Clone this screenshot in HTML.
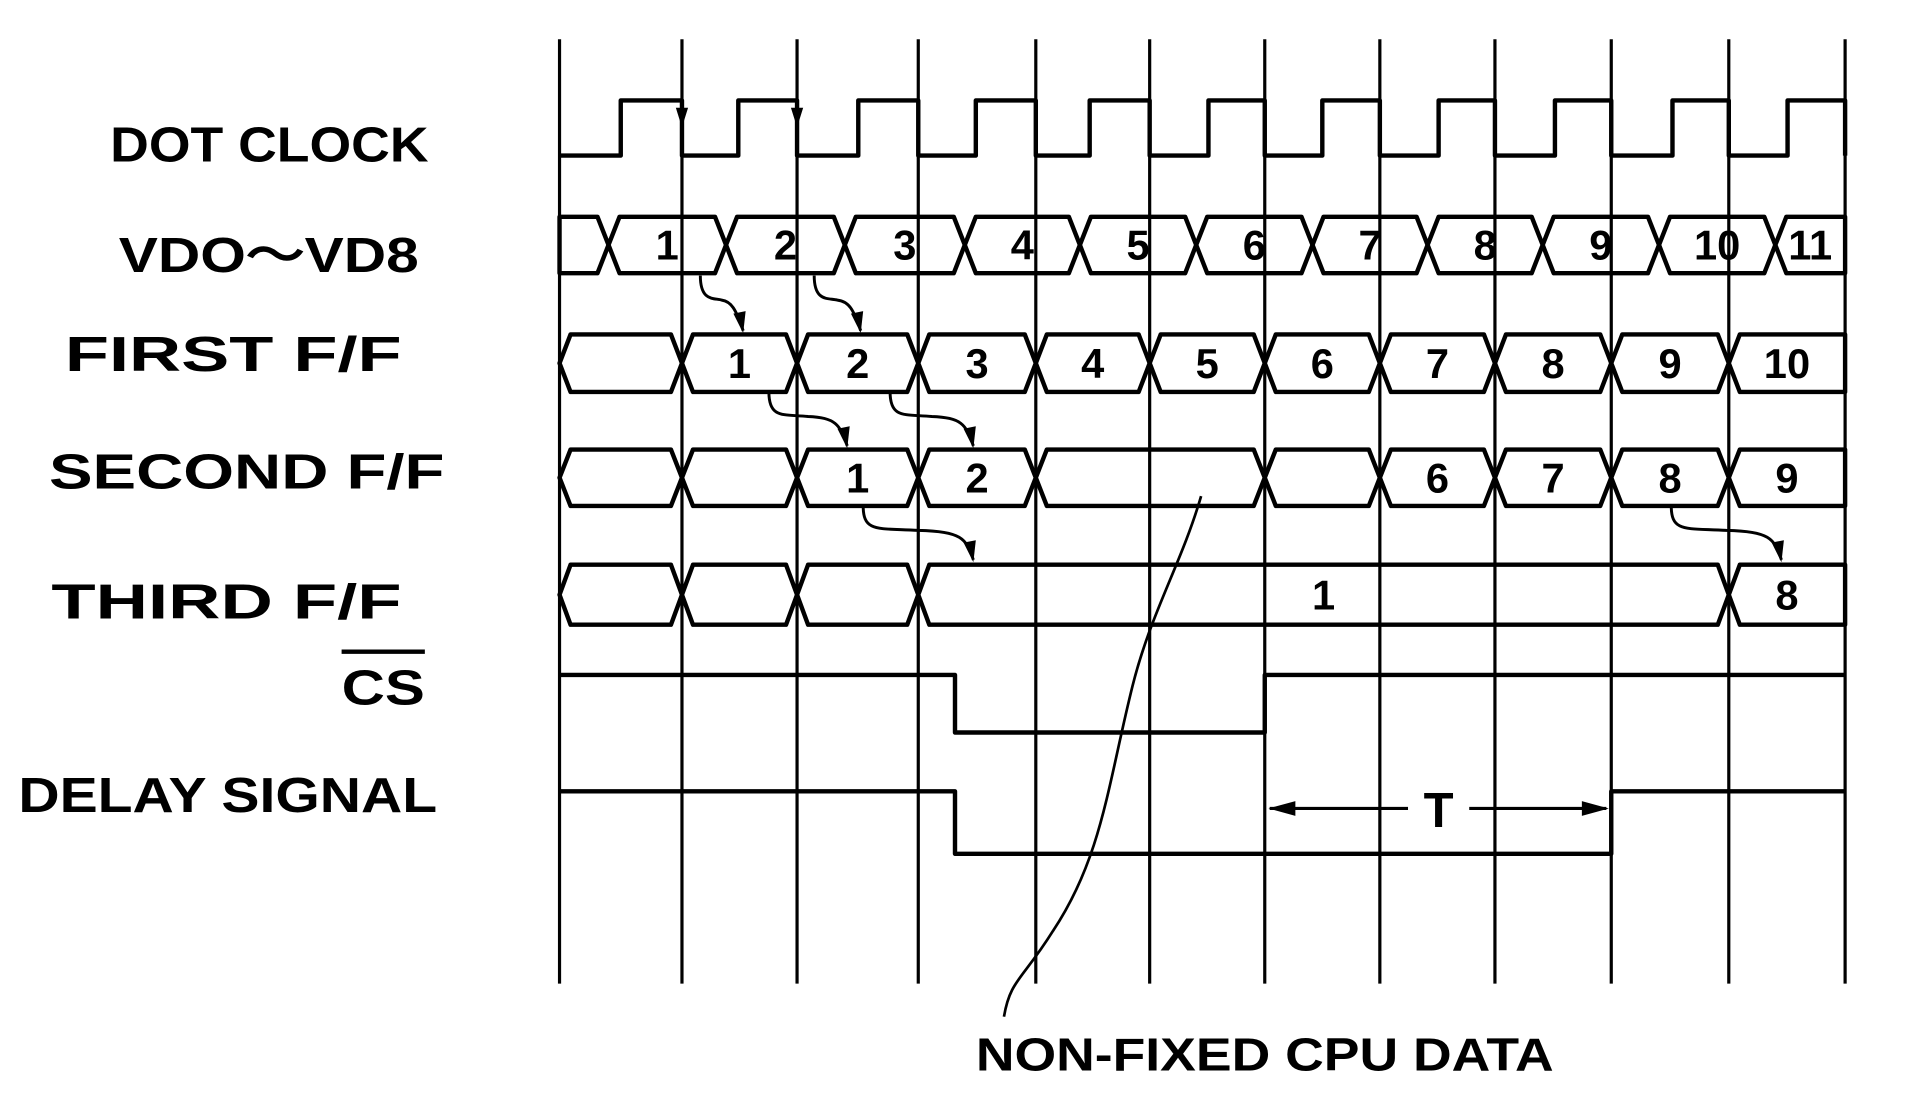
<!DOCTYPE html>
<html><head><meta charset="utf-8"><style>
html,body{margin:0;padding:0;background:#fff;}
svg{display:block;}
text{font-family:"Liberation Sans",sans-serif;font-weight:bold;fill:#000;}
</style></head><body>
<svg id="chart" width="1910" height="1100" viewBox="0 0 1560 898" preserveAspectRatio="none" xmlns="http://www.w3.org/2000/svg">
<g id="grid"></g>
<g id="waves" fill="none" stroke="#000" stroke-width="3.6" stroke-linejoin="round"></g>
<g id="labels">
<text x="90" y="132" font-size="40" textLength="260" lengthAdjust="spacingAndGlyphs">DOT CLOCK</text>
<text x="97" y="222" font-size="40" textLength="245" lengthAdjust="spacingAndGlyphs">VDO～VD8</text>
<text x="53" y="303" font-size="40" textLength="275" lengthAdjust="spacingAndGlyphs">FIRST  F/F</text>
<text x="40" y="399" font-size="40" textLength="323" lengthAdjust="spacingAndGlyphs">SECOND  F/F</text>
<text x="42" y="505" font-size="40" textLength="286" lengthAdjust="spacingAndGlyphs">THIRD   F/F</text>
<text x="279" y="575" font-size="40" textLength="68" lengthAdjust="spacingAndGlyphs">CS</text>
<line x1="279" y1="532" x2="347" y2="532" stroke="#000" stroke-width="3.5"/>
<text x="15" y="663" font-size="40" textLength="342" lengthAdjust="spacingAndGlyphs">DELAY SIGNAL</text>
<text x="797" y="874" font-size="38" textLength="472" lengthAdjust="spacingAndGlyphs">NON-FIXED CPU DATA</text>
<text x="1175" y="675" font-size="40" text-anchor="middle">T</text>
</g>
</svg>
<script>
// ---- data ----
const gridX = [457,557,651,750,846,939,1033,1127,1221,1316,1412,1507];
const clockRise = [507,603,701,797,890,987,1080,1175,1270,1366,1460];
const vdCross = [497,593,690,788,882,977,1072,1166,1260,1355,1450];
const vdLabels = ["1","2","3","4","5","6","7","8","9","10","11"];
const ff1Cross = [457,557,651,750,846,939,1033,1127,1221,1316,1412];
const ff1Labels = ["","1","2","3","4","5","6","7","8","9","10"];
const ff2Cross = [457,557,651,750,846,1033,1127,1221,1316,1412];
const ff2Labels = ["","","1","2","","","6","7","8","9"];
const ff3Cross = [457,557,651,750,1412];
const ff3Labels = ["","","","1","8"];
const csEdges = [780,1033];      // low between
const delayEdges = [780,1316];   // low between

const NS="http://www.w3.org/2000/svg";
const grid=document.getElementById('grid'), waves=document.getElementById('waves'), labels=document.getElementById('labels');
function mk(tag,attrs,parent){const e=document.createElementNS(NS,tag);for(const k in attrs)e.setAttribute(k,attrs[k]);parent.appendChild(e);return e;}

gridX.forEach((x,i)=>{
  const l=mk('line',{x1:x,y1:32,x2:x,y2:803,stroke:'#000','stroke-width':2.6},grid);
  
  
});

// clock
const yH=82,yL=127,xEnd=1507;
let d=`M${gridX[0]} ${yL}`;
clockRise.forEach((r,i)=>{const f=gridX[i+1];d+=` L${r} ${yL} L${r} ${yH} L${f} ${yH} L${f} ${yL}`;});
const clk=mk('path',{d},waves);


[557,651].forEach(x=>{
  const a=mk('path',{d:`M${x-5} 88 L${x+5} 88 L${x} 104 Z`,fill:'#000',stroke:'none'},waves);
  
  
});

function bus(name,cross,labs,top,bot,startFlat,x0,x1){
  const mid=(top+bot)/2, dd=9;
  const segs=[];
  if(startFlat) segs.push([x0,cross[0],true,false,""]);
  for(let i=0;i<cross.length;i++){
    const a=cross[i], b=(i+1<cross.length)?cross[i+1]:x1;
    segs.push([a,b,false,i+1>=cross.length,labs[startFlat?i+1:i]||""]);
  }
  segs.forEach((s,i)=>{
    const [a,b,fl,fr,lab]=s;
    let p = fl?`M${a} ${top} L${a} ${bot}`:`M${a+dd} ${top} L${a} ${mid} L${a+dd} ${bot}`;
    p += fr?` L${b} ${bot} L${b} ${top} Z`:` L${b-dd} ${bot} L${b} ${mid} L${b-dd} ${top} Z`;
    const e=mk('path',{d:p},waves);
    
    
    if(lab){
      const t=mk('text',{x:(a+b)/2,y:mid+12,'font-size':34,'text-anchor':'middle'},labels);
      t.textContent=lab;
      
      
    }
  });
}
bus('vd-bus',vdCross,[""].concat(vdLabels),177,223,true,457,1507);
bus('first-ff',ff1Cross,ff1Labels,273,320,false,457,1507);
bus('second-ff',ff2Cross,ff2Labels,367,413,false,457,1507);
bus('third-ff',ff3Cross,ff3Labels,461,510,false,457,1507);

function level(name,edges,hi,lo){
  const p=`M457 ${hi} L${edges[0]} ${hi} L${edges[0]} ${lo} L${edges[1]} ${lo} L${edges[1]} ${hi} L1507 ${hi}`;
  const e=mk('path',{d:p},waves);
  
  
}
level('cs-wave',csEdges,551,598);
level('delay-signal-wave',delayEdges,646,697);

// causality arrows
const arrows=[[572,225,607,272],[665,225,703,272],[628,320,692,366],[727,320,795,366],[705,413,795,459],[1365,413,1455,459]];
arrows.forEach((a,i)=>{
  const [x1,y1,x2,y2]=a;
  const e=mk('path',{d:`M${x1} ${y1} C${x1} ${y1+22} ${x1+12} ${y1+18} ${(x1+x2)/2} ${y1+20} C${x2-10} ${y1+21} ${x2-6} ${y2-20} ${x2} ${y2-2}`,'stroke-width':2.4},waves);
  
  
  const h=mk('path',{d:`M${x2} ${y2} L${x2-8} ${y2-16} L${x2+2} ${y2-18} Z`,fill:'#000',stroke:'none'},waves);
  
  
});
// non-fixed data pointer
const nf=mk('path',{d:'M981 405 C965 460 940 500 925 560 C905 640 900 700 860 760 C835 800 825 800 820 830','stroke-width':2.2},waves);


// T dimension arrows
const t1=mk('path',{d:'M1037 660 L1150 660 M1200 660 L1312 660','stroke-width':2.5},waves);


const t2=mk('path',{d:'M1036 660 L1058 654 L1058 666 Z M1314 660 L1292 654 L1292 666 Z',fill:'#000',stroke:'none'},waves);


</script>
</body></html>
